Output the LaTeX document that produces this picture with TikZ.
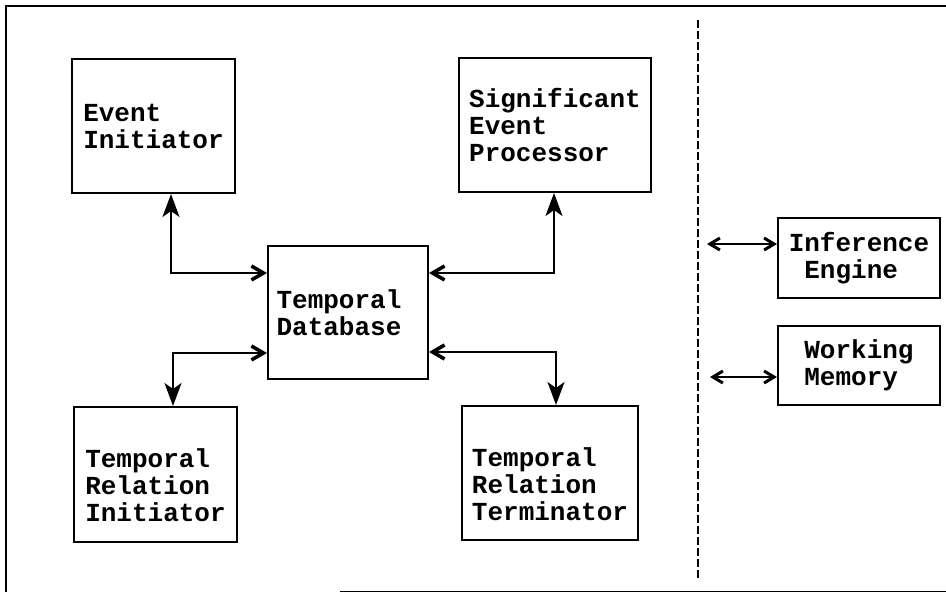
\documentclass[tikz,border=0pt]{standalone}
\usepackage{fontspec}
\newfontfamily\cour{Liberation Mono}
\usetikzlibrary{arrows.meta}
\tikzset{
  upTip/.tip={Stealth[length=23pt,width=17pt,inset=6pt]},
  barbTip/.tip={Straight Barb[length=12pt,width=14pt,line width=3.6pt]},
  sideTip/.tip={Straight Barb[length=10pt,width=12pt,line width=3pt]}
}
\begin{document}
\begin{tikzpicture}[x=1pt,y=-1pt,
  box/.style={draw, line width=2pt, inner sep=0pt},
  txt/.style={font=\cour\bfseries\fontsize{26}{27}\selectfont, align=left, inner sep=0pt},
  conn/.style={line width=2pt, upTip-barbTip},
  side/.style={line width=2pt, sideTip-sideTip}]
\useasboundingbox (0,0) rectangle (946,592);
% frame
\coordinate (ftr) at (946,6);
\coordinate (ftl) at (6,6);
\coordinate (fbl) at (6,592);
\coordinate (fb1) at (340,591);
\coordinate (fb2) at (946,591);
\draw[line width=2.2pt] (ftr) -- (ftl) -- (fbl);
\draw[line width=1pt] (fb1) -- (fb2);
% boxes
\node[box, minimum width=163pt, minimum height=134pt,
  label={[txt]center:Event\\Initiator}] (ei) at (153.5,126) {};
\node[box, minimum width=192pt, minimum height=134pt,
  label={[txt]center:Significant\\Event\\Processor}] (sep) at (555,125) {};
\node[box, minimum width=160pt, minimum height=133pt,
  label={[txt,xshift=-9pt]center:Temporal\\Database}] (td) at (348,312.5) {};
\node[box, minimum width=163pt, minimum height=135pt,
  label={[txt,yshift=-11pt]center:Temporal\\Relation\\Initiator}] (tri) at (155.5,474.5) {};
\node[box, minimum width=176pt, minimum height=134pt,
  label={[txt,yshift=-11pt]center:Temporal\\Relation\\Terminator}] (trt) at (550,473) {};
\node[box, minimum width=162pt, minimum height=80pt,
  label={[txt]center:Inference\\\hphantom{I}Engine}] (ie) at (859,258) {};
\node[box, minimum width=162pt, minimum height=79pt,
  label={[txt]center:Working\\Memory}] (wm) at (859,365.5) {};
% connectors
\draw[conn] ([xshift=17.5pt]ei.south) |- ([yshift=39.5pt]td.west);
\draw[conn] ([xshift=-1pt]sep.south) |- ([yshift=39.5pt]td.east);
\draw[conn] ([xshift=17.5pt]tri.north) |- ([yshift=-40.5pt]td.west);
\draw[conn] ([xshift=6pt]trt.north) |- ([yshift=-39.5pt]td.east);
% dashed divider
\coordinate (dtop) at (698,20);
\coordinate (dbot) at (698,578);
\draw[line width=2.6pt, dash pattern=on 8pt off 3pt] (dtop) -- (dbot);
% side arrows
\coordinate (ieL) at (707,244);
\coordinate (wmL) at (710,377);
\draw[side] (ieL) -- (ie.west |- ieL);
\draw[side, line width=1.4pt] (wmL) -- (wm.west |- wmL);
\end{tikzpicture}
\end{document}
